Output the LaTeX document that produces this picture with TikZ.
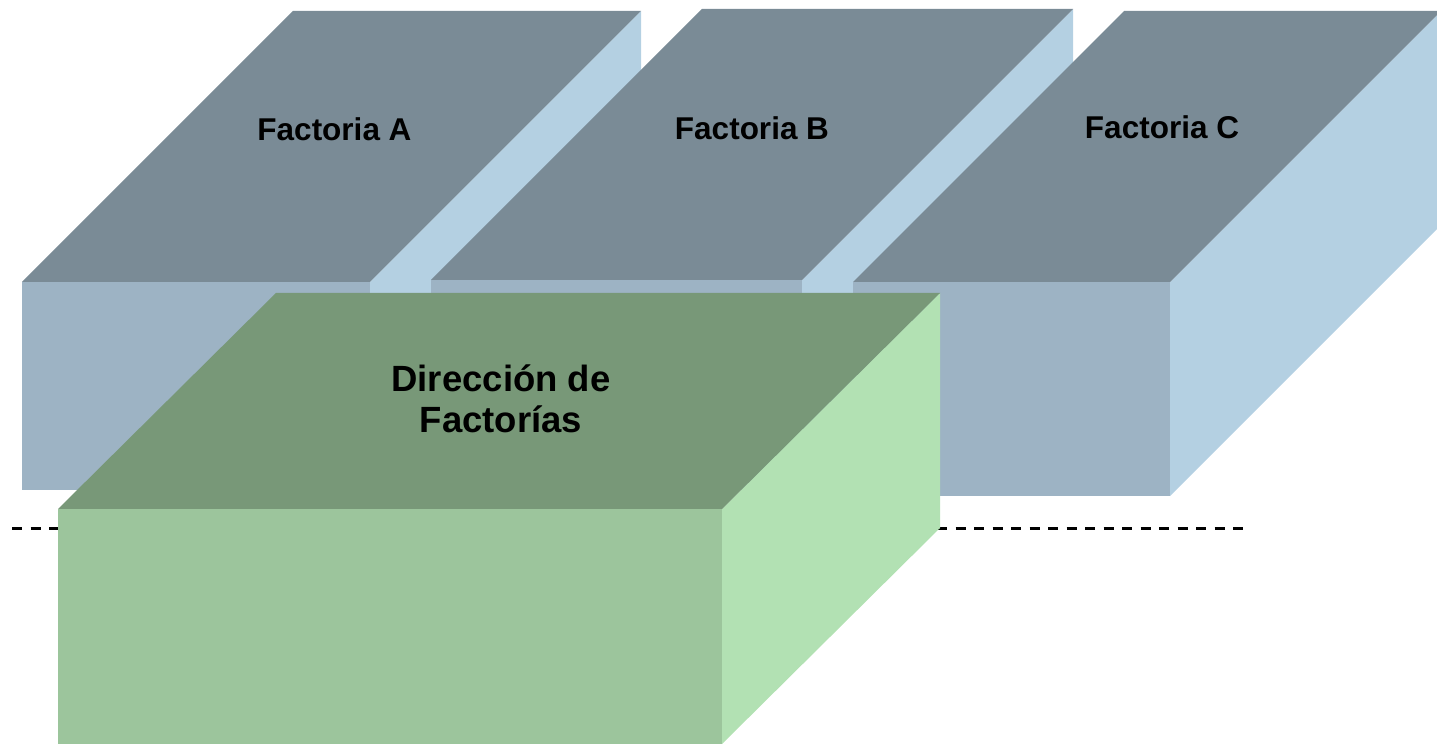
\documentclass[tikz,border=0pt]{standalone}
\usepackage{fontspec}
\setmainfont{Liberation Sans}
\usepackage{xcolor}
\definecolor{FactoryTop}{HTML}{7A8B96}
\definecolor{FactoryFront}{HTML}{9DB3C4}
\definecolor{FactorySide}{HTML}{B4D0E2}
\definecolor{ManagerTop}{HTML}{789878}
\definecolor{ManagerFront}{HTML}{9CC59C}
\definecolor{ManagerSide}{HTML}{B2E1B3}
\usepackage{tikz}

\begin{document}
\begin{tikzpicture}[x=1pt,y=1pt]
\tikzset{
  factory top/.style={fill=FactoryTop},
  factory front/.style={fill=FactoryFront},
  factory side/.style={fill=FactorySide},
  manager top/.style={fill=ManagerTop},
  manager front/.style={fill=ManagerFront},
  manager side/.style={fill=ManagerSide},
  box label/.style={
    anchor=base,
    inner sep=0pt,
    font=\fontsize{31.5}{38}\selectfont\bfseries},
  cut line/.style={
    draw=black,
    line width=3pt,
    dash pattern=on 10pt off 8.5pt}
}
\useasboundingbox (0,0) rectangle (1437,744);
\clip (0,0) rectangle (1437,744);

% the three factories, left x / right x / bottom y / top y
\foreach \l/\r/\b/\t in {22/370/254/462, 431/802/254/464, 853/1170/248/462} {
  \path[factory side]
  (\r,\b) -- (\r+271,\b+271) -- (\r+271,\t+271) -- (\r,\t) -- cycle;
  \path[factory top]
  (\l,\t) -- (\l+271,\t+271) -- (\r+271,\t+271) -- (\r,\t) -- cycle;
  \path[factory front] (\l,\b) rectangle (\r,\t);
}

\node[box label] (factA) at (334.5,603.5) {Factoria A};
\node[box label] (factB) at (752,604.7) {Factoria B};
\node[box label] (factC) at (1162,605.7) {Factoria C};

\path[cut line] (12,215) -- (1247,215);

% the management box in front
\path[manager side]
(722,0) -- (940,216) -- (940,451) -- (722,235) -- cycle;
\path[manager top]
(58,235) -- (276,451) -- (940,451) -- (722,235) -- cycle;
\path[manager front] (58,0) rectangle (722,235);

\node[box label, font=\fontsize{36.5}{41}\selectfont\bfseries] (mgmt)
at (501,352.3)
{\begin{tabular}[t]{@{}c@{}}Dirección de\\Factorías\end{tabular}};
\end{tikzpicture}
\end{document}
